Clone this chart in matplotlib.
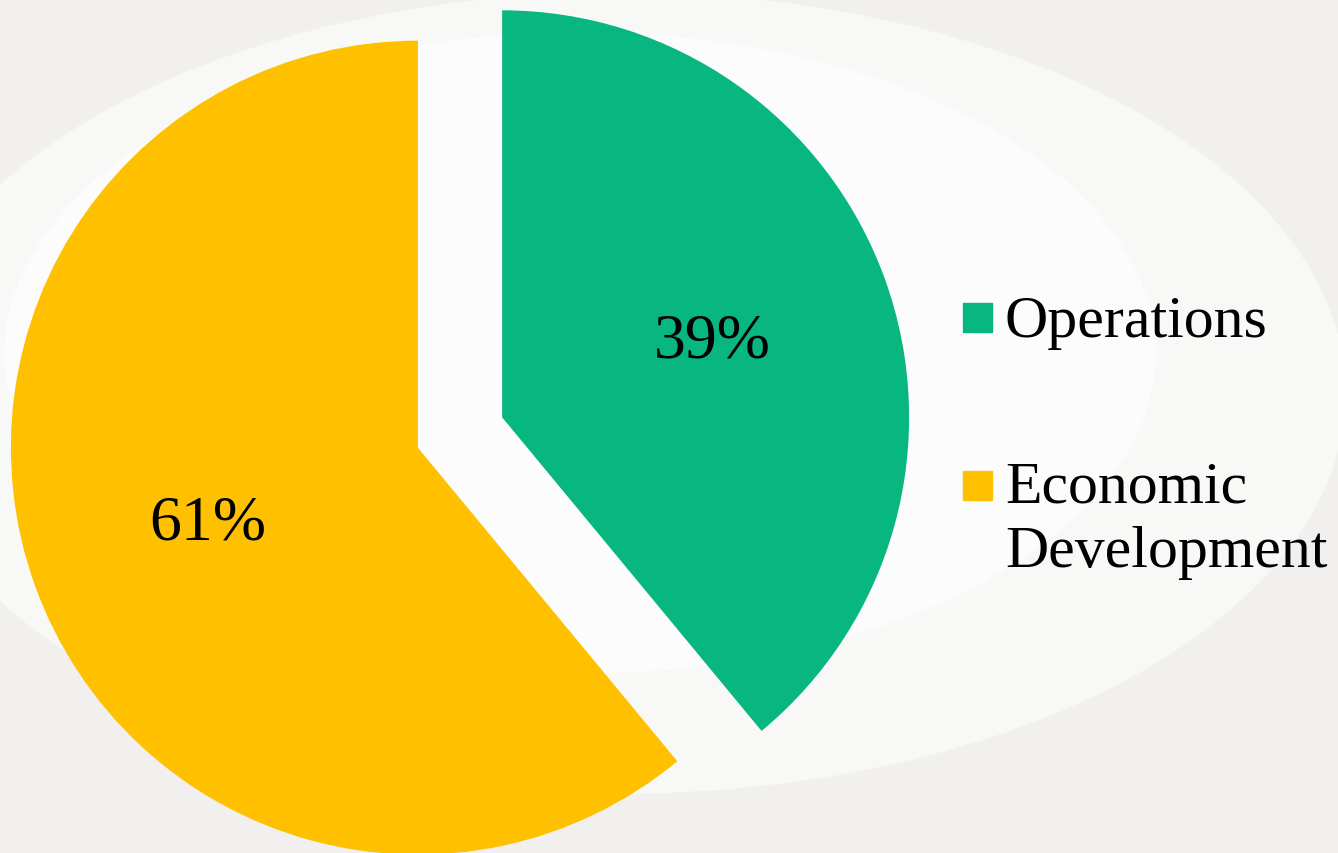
from matplotlib import pyplot as plt
from matplotlib.patches import Ellipse, Rectangle

labels = ['Operations', 'Economic\nDevelopment']
shares = [39, 61]
colors = ['#08B77F', '#FFC000']

W, H = 1338, 854
R = 407  # pie radius in px
fig = plt.figure(figsize=(W / 100, H / 100), dpi=100)
fig.patch.set_facecolor('#F2F0EE')
ax = fig.add_axes([0, 0, 1, 1])

# faint light backdrop (stands in for the puzzle photo)
ax.add_patch(Ellipse((620, 460), 1450, 800, color='#F8F8F7', zorder=0))
ax.add_patch(Ellipse((580, 500), 1150, 640, color='#FCFCFC', zorder=0))

wedges, texts, autotexts = ax.pie(
    shares, colors=colors, startangle=90, counterclock=False,
    center=(460, H - 433.5), radius=R, explode=[0.11 * R, 0.11 * R],
    autopct='%1.0f%%', pctdistance=0.55, frame=True,
    textprops=dict(fontsize=46, family='Liberation Serif', color='black'),
)
ax.set_xlim(0, W)
ax.set_ylim(0, H)
ax.set_aspect('equal')
ax.axis('off')

# legend, squares aligned with the first line of each label
sq_top = [304, 472]
base = [337, 503]
for lab, col, t, b in zip(labels, colors, sq_top, base):
    fig.patches.append(Rectangle((963 / W, (H - t - 29) / H), 29 / W, 29 / H,
                                 transform=fig.transFigure, color=col))
    txt = lab.split('\n')
    for i, line in enumerate(txt):
        fig.text(1005 / W, (H - b - 64 * i) / H, line, fontsize=43,
                 family='Liberation Serif', va='baseline', ha='left')

plt.savefig('out.png', dpi=100)
